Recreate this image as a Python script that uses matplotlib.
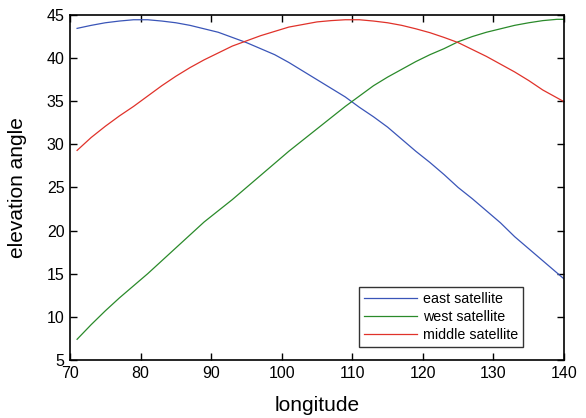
import matplotlib
matplotlib.use("Agg")
import matplotlib.pyplot as plt

plt.rcParams['font.family'] = ['Liberation Sans', 'DejaVu Sans']

longitude = [71, 73, 75, 77, 79, 81, 83, 85, 87, 89, 91, 93, 95, 97, 99, 101, 103, 105,
             107, 109, 111, 113, 115, 117, 119, 121, 123, 125, 127, 129, 131, 133, 135,
             137, 139, 140]

east = [43.45, 43.8, 44.1, 44.3, 44.45, 44.45, 44.3, 44.1, 43.8, 43.4, 43.0, 42.4,
        41.8, 41.1, 40.4, 39.5, 38.5, 37.5, 36.5, 35.5, 34.3, 33.2, 32.0, 30.6, 29.2,
        27.9, 26.5, 25.0, 23.7, 22.3, 20.9, 19.3, 17.9, 16.5, 15.1, 14.4]

west = [7.4, 9.1, 10.7, 12.2, 13.6, 15.0, 16.5, 18.0, 19.5, 21.0, 22.3, 23.6, 25.0,
        26.4, 27.8, 29.2, 30.5, 31.8, 33.1, 34.4, 35.6, 36.8, 37.8, 38.7, 39.6, 40.4,
        41.1, 41.9, 42.5, 43.0, 43.4, 43.8, 44.1, 44.35, 44.5, 44.5]

middle = [29.3, 30.8, 32.1, 33.3, 34.4, 35.6, 36.8, 37.9, 38.9, 39.8, 40.6, 41.4,
          42.0, 42.6, 43.1, 43.6, 43.9, 44.2, 44.35, 44.45, 44.45, 44.3, 44.1, 43.8,
          43.4, 42.95, 42.4, 41.8, 41.0, 40.2, 39.3, 38.4, 37.4, 36.3, 35.4, 34.95]

series_names = ['east satellite', 'west satellite', 'middle satellite']
series_colors = ['#3a55b8', '#2a8a2a', '#e0322a']

fig = plt.figure(figsize=(5.86, 4.18), dpi=100)
ax = fig.add_axes([0.1195, 0.1388, 0.8430, 0.8253])

for vals, name, col in zip([east, west, middle], series_names, series_colors):
    ax.plot(longitude, vals, color=col, linewidth=0.9, label=name)

ax.set_xlim(70, 140)
ax.set_ylim(5, 45)
ax.set_xticks(range(70, 141, 10))
ax.set_yticks(range(5, 46, 5))
ax.tick_params(direction='in', top=True, right=True, length=5, width=1,
               labelsize=11.5, colors='black', pad=4)
for sp in ax.spines.values():
    sp.set_linewidth(1.2)

ax.set_xlabel('longitude', fontsize=15)
ax.set_ylabel('elevation angle', fontsize=15)
ax.xaxis.set_label_coords(0.5, -0.104)
ax.yaxis.set_label_coords(-0.087, 0.5)

leg = ax.legend(loc='lower right', bbox_to_anchor=(0.9176, 0.0386), fontsize=10.3,
                frameon=True, fancybox=False, handlelength=3.7, handletextpad=0.45,
                borderpad=0.35, labelspacing=0.28, borderaxespad=0)
leg.get_frame().set_edgecolor('black')
leg.get_frame().set_linewidth(1.0)

fig.savefig('out.png', dpi=100)
